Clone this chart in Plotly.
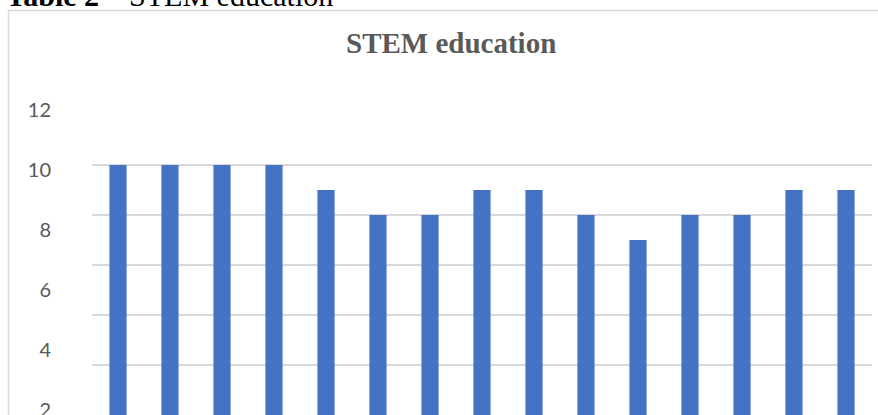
import plotly.graph_objects as go

categories = [str(i) for i in range(1, 16)]
values = [10, 10, 10, 10, 9, 8, 8, 9, 9, 8, 7, 8, 8, 9, 9]
grid_ticks = [0, 2, 4, 6, 8, 10]
label_ticks = [2, 4, 6, 8, 10, 12]

W, H = 878, 415
L, R, T, B = 92, 6, 100, 0
pw, ph = W - L - R, H - T - B

def px_x(x):
    return (x - L) / pw

def px_y(y):
    return (H - B - y) / ph

fig = go.Figure()
fig.add_trace(go.Bar(x=categories, y=values, marker=dict(color="#4472C4", line=dict(width=0)),
                     yaxis="y", hoverinfo="skip"))
# invisible trace for the label axis
fig.add_trace(go.Scatter(x=[categories[0]], y=[label_ticks[0]], yaxis="y2", mode="markers",
                         marker=dict(opacity=0, size=1), showlegend=False, hoverinfo="skip"))

fig.update_layout(
    width=W, height=H,
    margin=dict(l=L, r=R, t=T, b=B, pad=0, autoexpand=False),
    paper_bgcolor="white", plot_bgcolor="white",
    showlegend=False,
    bargap=0.67,
    xaxis=dict(range=[-0.5, len(categories) - 0.5], showticklabels=False, showgrid=False,
               zeroline=False, showline=False, ticks="", automargin=False),
    yaxis=dict(range=[0, 12.6], tickvals=grid_ticks, showticklabels=False, showgrid=True,
               gridcolor="#D9D9D9", gridwidth=2, zeroline=False, showline=False, ticks="",
               automargin=False),
    yaxis2=dict(overlaying="y", side="left", range=[1.8333, 12.3333], tickvals=label_ticks,
                showgrid=False, zeroline=False, showline=False, ticks="",
                ticklabelstandoff=40, ticklabeloverflow="allow", automargin=False,
                tickfont=dict(family="Lato", size=20, color="#595959")),
    shapes=[dict(type="rect", xref="paper", yref="paper",
                 x0=px_x(8.5), x1=px_x(890), y0=px_y(430), y1=px_y(10.5),
                 line=dict(color="#D9D9D9", width=1.5), fillcolor="rgba(0,0,0,0)", layer="below")],
    annotations=[
        dict(text="<b>STEM education</b>", xref="paper", yref="paper",
             x=px_x(451), y=px_y(61), xanchor="center", yanchor="bottom", showarrow=False,
             font=dict(family="Liberation Serif", size=29, color="#595959")),
        dict(text="<b>Table 2</b> – STEM education", xref="paper", yref="paper",
             x=px_x(4), y=px_y(14), xanchor="left", yanchor="bottom", showarrow=False,
             font=dict(family="Liberation Serif", size=30, color="black")),
    ],
)

fig.write_html("out.html")
